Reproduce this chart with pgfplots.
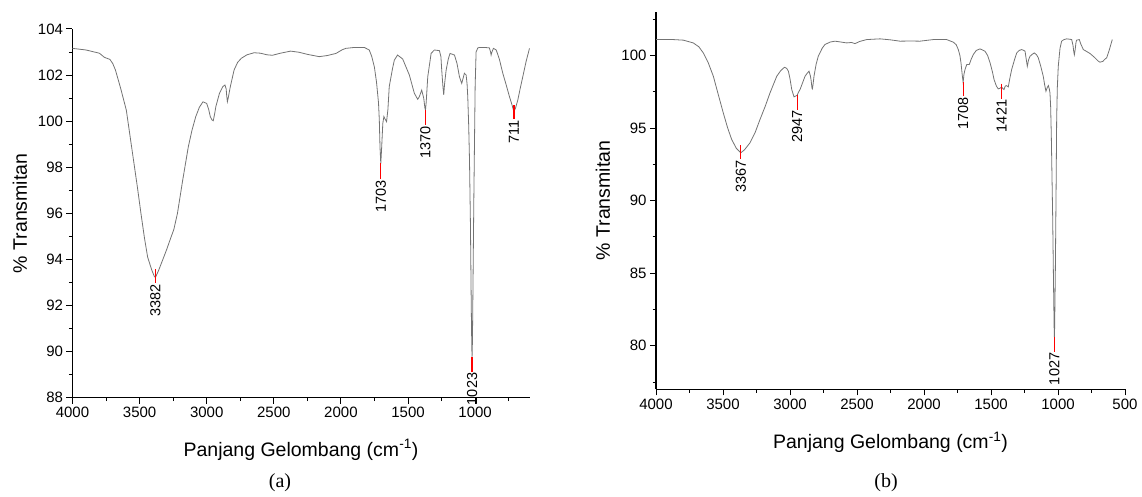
\documentclass[border=0pt]{standalone}
\usepackage{fontspec}
\setmainfont{Liberation Sans}
\newfontfamily\capfont{Liberation Serif}
\usepackage{pgfplots}
\pgfplotsset{compat=1.18}
\usepackage{pgfplotstable}

% spectrum (a)
\pgfplotstableread{
x y
4000 103.16
3900 103.09
3800 102.95
3762 102.77
3721 102.68
3700 102.50
3680 102.22
3640 101.40
3599 100.48
3560 98.90
3517 97.16
3490 96.00
3463 94.90
3440 94.10
3410 93.55
3390 93.26
3382 93.22
3360 93.50
3330 93.95
3299 94.42
3270 94.90
3245 95.30
3218 96.00
3180 97.40
3137 98.89
3110 99.60
3082 100.19
3055 100.60
3028 100.84
3000 100.77
2985 100.50
2973 100.19
2960 100.05
2951 100.02
2940 100.35
2932 100.63
2905 101.21
2880 101.50
2864 101.57
2855 101.40
2851 101.10
2846 100.85
2840 101.00
2824 101.50
2796 102.22
2770 102.55
2742 102.73
2700 102.88
2647 102.97
2600 102.95
2550 102.88
2511 102.86
2450 102.95
2375 103.04
2311 102.99
2250 102.90
2162 102.80
2100 102.85
2037 102.94
1990 103.10
1963 103.16
1900 103.20
1826 103.20
1789 103.09
1770 102.80
1751 102.36
1735 101.70
1720 100.80
1714 100.05
1709 98.90
1703 98.15
1697 98.80
1688 99.90
1680 100.20
1672 100.10
1660 99.98
1650 100.50
1640 101.50
1615 102.30
1602 102.65
1578 102.87
1540 102.70
1490 102.00
1453 101.21
1428 100.95
1416 101.06
1398 101.35
1383 101.00
1375 100.60
1370 100.48
1365 100.80
1353 101.93
1328 102.94
1304 103.09
1266 103.06
1255 102.80
1249 102.22
1240 101.50
1234 101.14
1228 101.60
1216 102.22
1200 102.70
1187 102.94
1154 102.87
1135 102.50
1117 101.93
1100 101.64
1088 101.90
1080 102.08
1067 102.00
1060 101.60
1055 101.06
1048 99.80
1042 98.30
1035 95.50
1029 92.00
1025 90.20
1023 89.75
1020 90.50
1015 93.50
1010 96.50
1005 99.00
1000 101.50
993 103.00
980 103.18
968 103.20
930 103.20
894 103.18
885 103.00
881 102.87
875 103.00
864 103.16
843 103.09
820 102.70
794 102.08
770 101.60
744 101.06
725 100.70
712 100.42
700 100.55
682 100.92
665 101.40
645 101.93
620 102.60
595 103.16
}\specA

% spectrum (b)
\pgfplotstableread{
x y
4000 101.10
3871 101.10
3796 101.06
3722 100.87
3680 100.60
3647 100.18
3610 99.50
3572 98.57
3535 97.30
3498 96.05
3465 95.00
3435 94.21
3400 93.60
3367 93.30
3340 93.50
3299 93.98
3260 94.70
3224 95.59
3185 96.50
3149 97.43
3099 98.57
3070 98.95
3042 99.19
3025 99.12
3012 98.92
3000 98.40
2987 97.66
2970 97.15
2960 97.20
2947 97.26
2935 97.50
2925 97.66
2888 98.57
2870 98.80
2858 98.92
2848 98.60
2843 98.34
2836 97.75
2833 97.70
2828 98.00
2821 98.57
2805 99.40
2789 99.95
2760 100.50
2739 100.76
2700 100.93
2664 100.99
2620 100.93
2577 100.87
2540 100.90
2515 100.82
2480 100.97
2428 101.10
2328 101.15
2250 101.08
2179 100.99
2100 101.00
2030 100.99
1931 101.10
1831 101.10
1781 100.92
1760 100.75
1744 100.41
1732 100.00
1724 99.50
1714 98.60
1708 98.15
1702 98.70
1694 99.03
1681 99.38
1662 99.38
1650 99.70
1632 100.07
1610 100.35
1582 100.46
1545 100.30
1525 100.00
1507 99.50
1490 98.90
1477 98.34
1460 97.90
1446 97.70
1432 97.75
1421 97.84
1410 97.70
1403 97.66
1396 97.85
1388 97.93
1380 97.90
1371 97.84
1360 98.40
1346 99.03
1325 99.70
1308 100.18
1290 100.35
1271 100.41
1255 100.35
1246 100.30
1238 99.80
1229 99.26
1220 99.70
1209 99.95
1190 100.10
1177 100.18
1160 100.05
1147 99.84
1130 99.30
1110 98.57
1100 98.00
1090 97.54
1080 97.80
1072 97.93
1065 97.70
1060 97.43
1055 96.50
1050 94.50
1040 89.00
1033 84.00
1029 81.30
1027 80.60
1025 81.30
1020 85.00
1014 91.00
1010 95.60
1005 97.80
998 99.26
985 100.50
973 100.99
955 101.10
935 101.15
910 101.12
898 101.10
888 100.70
883 100.30
878 100.05
872 100.40
866 100.90
861 101.06
850 101.08
841 101.10
830 100.80
811 100.41
790 100.30
761 100.14
725 99.85
700 99.62
687 99.54
665 99.60
650 99.75
637 99.84
620 100.30
595 101.10
}\specB

\pgfplotsset{
  ftir/.style={
    scale only axis,
    x dir=reverse,
    axis lines=left,
    axis line style={-, black, line width=1.1pt},
    tick align=outside,
    tick style={black, line width=1pt},
    major tick length=6pt,
    minor tick length=3.5pt,
    clip=false,
    /pgf/number format/assume math mode=true,
    /pgf/number format/1000 sep={},
    ticklabel style={font=\fontsize{15}{18}\selectfont},
    xlabel={Panjang Gelombang (cm\textsuperscript{-1})},
    ylabel={\% Transmitan},
  },
  spec/.style={color=black!55, line width=0.8pt},
  pk/.style={color=red, line width=1.2pt},
}
\tikzset{
  pklab/.style={rotate=90, anchor=east, inner sep=1pt, font=\fontsize{14.5}{17}\selectfont},
  labfont/.style={font=\fontsize{19.5}{23}\selectfont},
}

\begin{document}
\begin{tikzpicture}
\useasboundingbox (0pt,0pt) rectangle (1142pt,496pt);

\begin{axis}[ftir,
  at={(72.5pt,98.3pt)}, anchor=south west,
  width=457pt, height=368.7pt,
  xmin=595, xmax=4000, ymin=88, ymax=104,
  xtick={1000,1500,...,4000},
  minor xtick={750,1250,...,3750},
  ytick={88,90,...,104},
  minor ytick={89,91,...,103},
  every axis x label/.style={at={(axis description cs:0.5,-0.142)}, anchor=center, labfont},
  every axis y label/.style={at={(axis description cs:-0.115,0.5)}, rotate=90, anchor=center, labfont},
]
\addplot[spec] table[x=x, y=y] {\specA};
\addplot[pk] coordinates {(3382,93.58) (3382,92.96)};
\addplot[pk] coordinates {(1703,98.17) (1703,97.48)};
\addplot[pk] coordinates {(1370,100.48) (1370,99.83)};
\addplot[pk] coordinates {(1023,89.78) (1023,89.13)};
\addplot[pk] coordinates {(711,100.70) (711,100.08)};
\node[pklab] at (axis cs:3382,92.96) {3382};
\node[pklab] at (axis cs:1703,97.48) {1703};
\node[pklab] at (axis cs:1370,99.83) {1370};
\node[pklab] at (axis cs:1023,89.13) {1023};
\node[pklab] at (axis cs:711,100.08) {711};
\end{axis}

\begin{axis}[ftir,
  at={(656pt,106.7pt)}, anchor=south west,
  width=469pt, height=377.3pt,
  xmin=500, xmax=4000, ymin=77, ymax=103,
  xtick={500,1000,...,4000},
  minor xtick={750,1250,...,3750},
  ytick={80,85,...,100},
  minor ytick={77.5,82.5,...,102.5},
  every axis x label/.style={at={(axis description cs:0.5,-0.140)}, anchor=center, labfont},
  every axis y label/.style={at={(axis description cs:-0.113,0.5)}, rotate=90, anchor=center, labfont},
]
\addplot[spec] table[x=x, y=y] {\specB};
\addplot[pk] coordinates {(3367,93.81) (3367,92.88)};
\addplot[pk] coordinates {(2947,97.26) (2947,96.28)};
\addplot[pk] coordinates {(1708,98.16) (1708,97.19)};
\addplot[pk] coordinates {(1421,98.07) (1421,97.03)};
\addplot[pk] coordinates {(1027,80.60) (1027,79.60)};
\node[pklab] at (axis cs:3367,92.88) {3367};
\node[pklab] at (axis cs:2947,96.28) {2947};
\node[pklab] at (axis cs:1708,97.19) {1708};
\node[pklab] at (axis cs:1421,97.03) {1421};
\node[pklab] at (axis cs:1027,79.60) {1027};
\end{axis}

\node[font=\capfont\fontsize{20}{24}\selectfont] at (280pt,13pt) {(a)};
\node[font=\capfont\fontsize{20}{24}\selectfont] at (886pt,13pt) {(b)};
\end{tikzpicture}
\end{document}
